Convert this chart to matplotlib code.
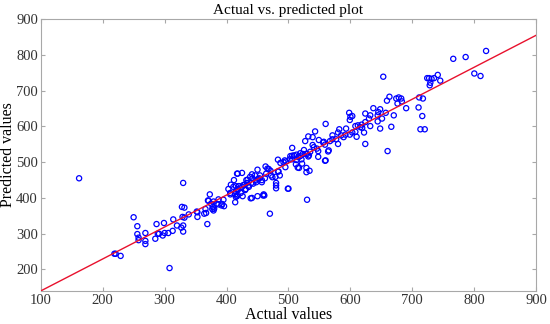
import numpy as np
import matplotlib
matplotlib.use("Agg")
import matplotlib.pyplot as plt

# actual vs predicted values
actual = [
    162, 250, 256, 256, 258, 258, 219, 221, 229, 287, 299, 269, 269, 269, 285,
    289, 291, 297, 300, 306, 313, 314, 320, 327, 328, 330, 329, 330, 330, 339,
    352, 353, 308, 364, 369, 370, 373, 375, 377, 378, 379, 384, 387, 392, 395,
    396, 366, 371, 379, 387, 393, 380, 367, 353, 332, 332,
    403, 406, 411, 414, 417, 425, 414, 417, 417, 420, 423, 427, 426, 431, 435,
    439, 434, 438, 441, 443, 447, 450, 450, 453, 459, 460, 457, 463, 468, 470,
    471, 474, 418, 466, 487, 492, 496, 442, 446, 454, 464, 472, 479, 484, 462,
    451, 457, 448, 440, 433, 432, 429, 436, 425, 420, 415, 407, 412, 406, 415,
    419, 418, 415, 430, 441, 461, 480, 480, 480, 499,
    503, 509, 506, 513, 519, 528, 533, 522, 515, 512, 529, 534, 529, 530, 500,
    486, 495, 483, 517, 532, 527, 539, 541, 546, 548, 535, 525, 523, 519, 530,
    532, 506, 506, 513, 516, 521, 502, 494, 483, 559, 548, 564,
    819, 786, 766, 800, 810, 653, 724, 727, 731, 735, 741, 745, 729, 728, 663,
    659, 674, 678, 682, 683, 676, 690, 711, 717, 710, 716, 713, 720, 637, 648,
    645, 644, 632, 624, 630, 651, 657, 670, 666, 648, 598, 600, 603, 599, 608,
    612, 618, 616, 619, 624, 632, 644, 560, 593, 582, 580, 585, 589, 592, 599,
    603, 608, 610, 622, 624, 660, 543, 539, 549, 556, 557, 559, 567, 571, 571,
    577, 580, 565, 560,
]
predicted = [
    455, 346, 321, 299, 289, 282, 244, 244, 238, 327, 330, 302, 280, 271, 286,
    300, 300, 295, 302, 302, 308, 340, 323, 317, 375, 442, 347, 323, 306, 354,
    362, 347, 204, 356, 327, 393, 410, 384, 369, 375, 365, 384, 382, 379, 395,
    377, 369, 392, 390, 396, 383, 370, 358, 360, 373, 345,
    425, 410, 431, 388, 468, 470, 410, 405, 425, 433, 414, 436, 405, 425, 434,
    399, 451, 459, 466, 440, 449, 405, 479, 455, 407, 410, 444, 488, 481, 356,
    476, 458, 468, 482, 498, 500, 502, 455, 463, 463, 468, 463, 459, 474, 455,
    453, 450, 444, 442, 442, 450, 437, 431, 431, 433, 433, 437, 450, 414, 418,
    424, 409, 403, 422, 400, 407, 442, 435, 427, 426,
    517, 519, 508, 506, 517, 523, 519, 496, 485, 494, 472, 476, 484, 395, 426,
    463, 486, 474, 484, 572, 559, 548, 542, 538, 531, 529, 534, 523, 525, 523,
    516, 540, 518, 521, 514, 508, 508, 505, 507, 504, 515, 530,
    811, 794, 789, 748, 741, 739, 735, 735, 733, 735, 744, 728, 722, 715, 683,
    672, 678, 681, 678, 670, 664, 651, 681, 678, 653, 629, 592, 592, 651, 648,
    640, 631, 631, 636, 622, 622, 638, 631, 599, 594, 638, 627, 629, 618, 601,
    603, 605, 598, 596, 612, 601, 614, 607, 594, 592, 583, 575, 570, 577, 577,
    583, 585, 571, 583, 551, 531, 586, 570, 562, 555, 557, 549, 559, 575, 564,
    564, 551, 533, 505,
]

# fitted line end points
line_x = [100, 900]
line_y = [140, 855]

plt.rcParams['font.family'] = ['Liberation Serif', 'DejaVu Serif']

fig = plt.figure(figsize=(5.5, 3.24), dpi=100)
ax = fig.add_axes([0.074, 0.102, 0.901, 0.839])

ax.scatter(actual, predicted, s=14, facecolors='none', edgecolors='#0000ff',
           linewidths=0.9, zorder=2)
ax.plot(line_x, line_y, color='#e8112d', linewidth=1.0, zorder=3)

ax.set_xlim(100, 900)
ax.set_ylim(140, 900)
ax.set_xticks(np.arange(100, 901, 100))
ax.set_yticks(np.arange(200, 901, 100))

for s in ax.spines.values():
    s.set_color('#a8a8a8')
    s.set_linewidth(0.8)
ax.tick_params(direction='in', length=3, color='#a8a8a8', labelsize=10.5,
               labelcolor='#333333', top=True, right=True, pad=2)

ax.set_title('Actual vs. predicted plot', fontsize=11, pad=4)
ax.set_xlabel('Actual values', fontsize=11.5, labelpad=0)
ax.set_ylabel('Predicted values', fontsize=11.5)
ax.yaxis.set_label_coords(-0.05, 0.5)

fig.savefig('out.png', dpi=100)
